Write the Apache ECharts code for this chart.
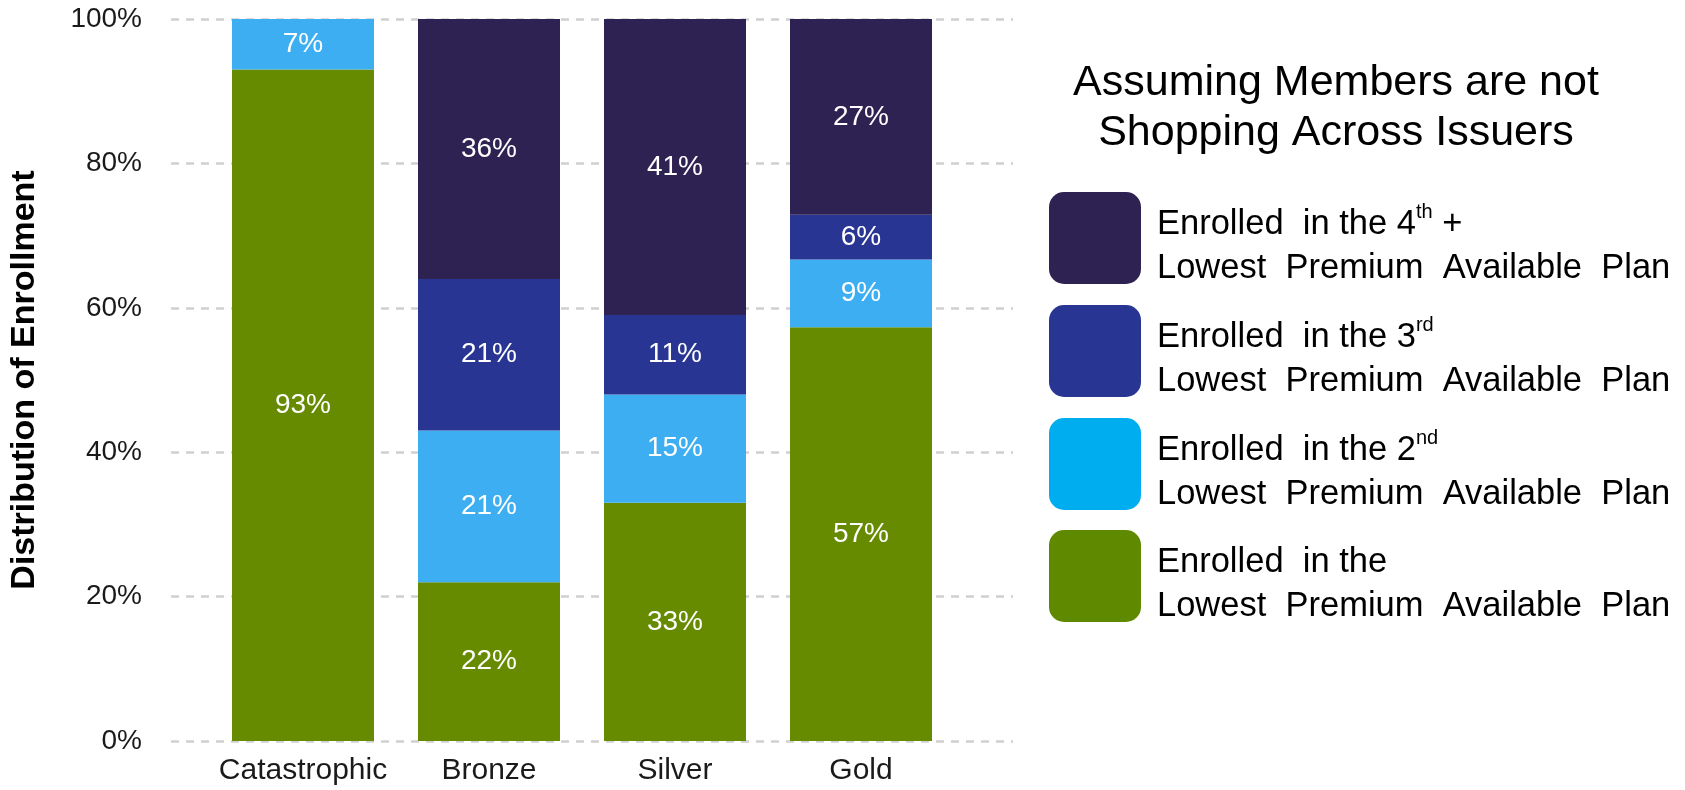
<!DOCTYPE html>
<html>
<head>
<meta charset="utf-8">
<script src="https://cdn.jsdelivr.net/npm/echarts@6/dist/echarts.min.js"></script>
<style>
  html, body { margin: 0; padding: 0; background: #ffffff; }
  #chart { width: 1685px; height: 790px; }
</style>
</head>
<body>
<div id="chart"></div>
<script>
// Metal tiers on the x axis
const categories = ['Catastrophic', 'Bronze', 'Silver', 'Gold'];

// Share of enrollment (%) by rank of the plan's premium among available plans
const lowestPlan = [93, 22, 33, 57.3];
const secondPlan = [7, 21, 15, 9.4];
const thirdPlan = [null, 21, 11, 6.2];
const fourthPlusPlan = [null, 36, 41, 27.1];

// Y-axis tick settings
const yMin = 0;
const yMax = 100;
const yStep = 20;

const seriesNames = [
  'Enrolled in the Lowest Premium Available Plan',
  'Enrolled in the 2nd Lowest Premium Available Plan',
  'Enrolled in the 3rd Lowest Premium Available Plan',
  'Enrolled in the 4th + Lowest Premium Available Plan'
];
const seriesData = [lowestPlan, secondPlan, thirdPlan, fourthPlusPlan];
const barColors = ['#668a00', '#3daef2', '#283593', '#2e2252'];
const keyColors = ['#5f8a00', '#00adee', '#283593', '#2e2252'];

const FONT = '"Liberation Sans", Arial, Helvetica, sans-serif';

const chart = echarts.init(document.getElementById('chart'), null, { renderer: 'canvas' });

const barSeries = seriesData.map((data, i) => ({
  name: seriesNames[i],
  type: 'bar',
  xAxisIndex: 1,
  yAxisIndex: 1,
  stack: 'share',
  barWidth: 142,
  data: data,
  itemStyle: { color: barColors[i] },
  label: {
    show: true,
    position: 'inside',
    color: '#ffffff',
    fontFamily: FONT,
    fontSize: 28,
    formatter: p => (p.value == null ? '' : Math.round(p.value) + '%')
  }
}));

// Key on the right: title, rounded swatches and two-line labels with superscripts
const keyTop = [192, 305, 418, 530];
const keyLines = [
  '{a|Enrolled  in the 4}{s|th}{a| +}\n{a|Lowest  Premium  Available  Plan}',
  '{a|Enrolled  in the 3}{s|rd}\n{a|Lowest  Premium  Available  Plan}',
  '{a|Enrolled  in the 2}{s|nd}\n{a|Lowest  Premium  Available  Plan}',
  '{a|Enrolled  in the}\n{a|Lowest  Premium  Available  Plan}'
];
const keyOrder = [3, 2, 1, 0];
const keyRich = {
  a: { fontFamily: FONT, fontSize: 34.5, lineHeight: 44, fill: '#000000' },
  s: { fontFamily: FONT, fontSize: 20, lineHeight: 44, verticalAlign: 'top', padding: [0, 0, 0, 0], fill: '#000000' }
};

const graphics = [
  {
    type: 'text',
    x: 1336,
    y: 83,
    style: {
      text: 'Assuming Members are not',
      fontFamily: FONT,
      fontSize: 43,
      fill: '#000000',
      align: 'center',
      verticalAlign: 'middle'
    }
  },
  {
    type: 'text',
    x: 1336,
    y: 133,
    style: {
      text: 'Shopping Across Issuers',
      fontFamily: FONT,
      fontSize: 43,
      fill: '#000000',
      align: 'center',
      verticalAlign: 'middle'
    }
  }
];
keyOrder.forEach((si, k) => {
  graphics.push({
    type: 'rect',
    shape: { x: 1049, y: keyTop[k], width: 92, height: 92, r: 15 },
    style: { fill: keyColors[si] }
  });
  graphics.push({
    type: 'text',
    x: 1157,
    y: keyTop[k] + 54,
    style: {
      text: keyLines[k],
      rich: keyRich,
      verticalAlign: 'middle',
      align: 'left'
    }
  });
});

chart.setOption({
  animation: false,
  backgroundColor: '#ffffff',
  grid: [
    { left: 159, right: 672, top: 19, bottom: 49 },
    { left: 210, right: 731, top: 19, bottom: 49 }
  ],
  xAxis: [
    { gridIndex: 0, type: 'value', min: 0, max: 1, show: false },
    {
      gridIndex: 1,
      type: 'category',
      data: categories,
      axisLine: { show: false },
      axisTick: { show: false },
      axisLabel: { interval: 0, fontFamily: FONT, fontSize: 30, color: '#1a1a1a', margin: 15 }
    }
  ],
  yAxis: [
    {
      gridIndex: 0,
      type: 'value',
      min: yMin,
      max: yMax,
      interval: yStep,
      axisLine: { show: false },
      axisTick: { show: false },
      axisLabel: { fontFamily: FONT, fontSize: 28, color: '#1a1a1a', margin: 29, formatter: '{value}%' },
      splitLine: { lineStyle: { color: '#d0d0d0', width: 2.5, type: [8, 7] } },
      name: 'Distribution of Enrollment',
      nameLocation: 'middle',
      nameGap: 129,
      nameTextStyle: { fontFamily: FONT, fontWeight: 'bold', fontSize: 34, color: '#000000' }
    },
    { gridIndex: 1, type: 'value', min: yMin, max: yMax, show: false }
  ],
  series: barSeries,
  graphic: graphics
});
</script>
</body>
</html>
